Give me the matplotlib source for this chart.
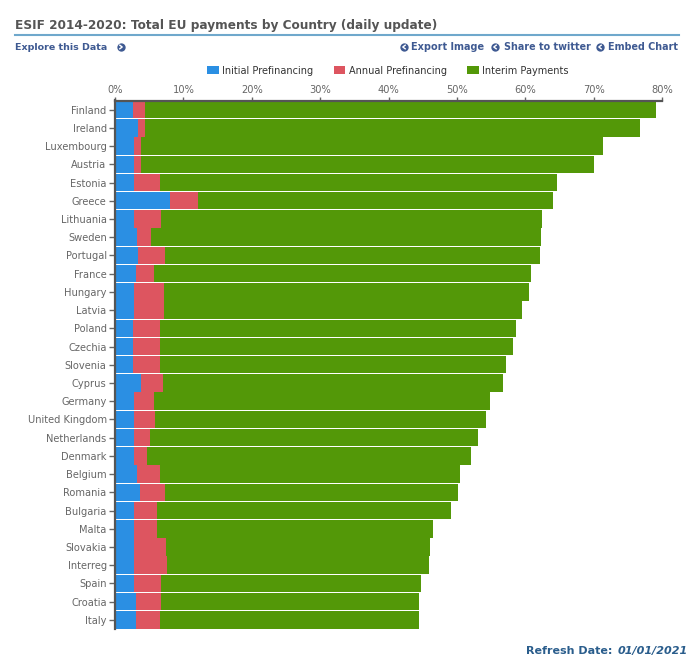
import matplotlib
matplotlib.use("Agg")
import matplotlib.pyplot as plt
from matplotlib.lines import Line2D
import numpy as np

countries = ["Finland", "Ireland", "Luxembourg", "Austria", "Estonia", "Greece", "Lithuania", "Sweden",
             "Portugal", "France", "Hungary", "Latvia", "Poland", "Czechia", "Slovenia", "Cyprus", "Germany",
             "United Kingdom", "Netherlands", "Denmark", "Belgium", "Romania", "Bulgaria", "Malta", "Slovakia",
             "Interreg", "Spain", "Croatia", "Italy"]
initial = [2.7, 3.35, 2.85, 2.85, 2.75, 8.1, 2.75, 3.2, 3.35, 3.05, 2.75, 2.85, 2.7, 2.7, 2.7, 3.85, 2.75,
           2.75, 2.75, 2.75, 3.15, 3.7, 2.85, 2.75, 2.75, 2.85, 2.85, 3.0, 3.1]
annual = [1.75, 1.1, 0.95, 0.95, 3.9, 4.0, 4.05, 2.05, 3.95, 2.6, 4.4, 4.25, 3.85, 3.9, 3.95, 3.1, 2.9,
          3.15, 2.3, 1.9, 3.5, 3.6, 3.3, 3.4, 4.7, 4.8, 3.95, 3.7, 3.5]
interim = [74.65, 72.4, 67.5, 66.2, 57.95, 51.9, 55.6, 57.05, 54.8, 55.25, 53.35, 52.4, 52.05, 51.6, 50.55,
           49.75, 49.15, 48.3, 48.05, 47.35, 43.75, 42.9, 42.95, 40.3, 38.65, 38.3, 38.0, 37.8, 37.9]
xticks = [0, 10, 20, 30, 40, 50, 60, 70, 80]

W, H = 694, 661
BLUE, RED, GREEN = "#2b8fe3", "#dd5560", "#539808"
LINK = "#3f5a92"
GREY = "#666666"


def fx(x):
    return x / W


def fy(y):
    return 1 - y / H


def link_icon(x, y, right=False):
    # little round arrow next to the header links
    fig.add_artist(Line2D([fx(x)], [fy(y)], marker="o", ms=6, color=LINK, mec="none"))
    d = 1.2 if right else -1.2
    fig.add_artist(Line2D([fx(x - d), fx(x + d), fx(x - d)], [fy(y - 1.8), fy(y), fy(y + 1.8)], color="white", lw=1))


plt.rcParams["font.family"] = ["DejaVu Sans"]
fig = plt.figure(figsize=(W / 100, H / 100), dpi=100)
ax = fig.add_axes([fx(115), fy(629), fx(662 - 115), (629 - 100.5) / H])

y = np.arange(len(countries))
initial_arr, annual_arr, interim_arr = np.array(initial), np.array(annual), np.array(interim)
b1 = ax.barh(y, initial_arr, height=0.96, color=BLUE, label="Initial Prefinancing")
b2 = ax.barh(y, annual_arr, left=initial_arr, height=0.96, color=RED, label="Annual Prefinancing")
b3 = ax.barh(y, interim_arr, left=initial_arr + annual_arr, height=0.96, color=GREEN, label="Interim Payments")

ax.set_xlim(0, 80)
ax.set_ylim(len(countries) - 0.5, -0.5)
ax.xaxis.tick_top()
ax.set_xticks(xticks)
ax.set_xticklabels([f"{t}%" for t in xticks])
ax.set_yticks(y)
ax.set_yticklabels(countries)
ax.tick_params(axis="x", length=3, width=1, color=GREY, labelcolor=GREY, labelsize=7.1, pad=1)
ax.tick_params(axis="y", length=4, width=1, color=GREY, labelcolor=GREY, labelsize=7.1, pad=2)
for side in ["right", "bottom"]:
    ax.spines[side].set_visible(False)
for side in ["top", "left"]:
    ax.spines[side].set_color("#555555")
    ax.spines[side].set_linewidth(1.6)

fig.legend(handles=[b1, b2, b3], loc="center", bbox_to_anchor=(fx(388), fy(70.5)), ncol=3, frameon=False,
           fontsize=7, handlelength=1.2, handleheight=0.9, handletextpad=0.35, columnspacing=2.1,
           labelcolor="#333333", borderpad=0)

fig.text(fx(15), fy(25), "ESIF 2014-2020: Total EU payments by Country (daily update)", fontsize=8.7,
         fontweight="bold", color="#555555", va="center")
fig.add_artist(Line2D([fx(15), fx(679)], [fy(35), fy(35)], color="#6fa8cc", lw=1.5))

fig.text(fx(15), fy(47), "Explore this Data", fontsize=6.8, fontweight="bold", color=LINK, va="center")
link_icon(121, 47, right=True)
link_icon(404, 47)
fig.text(fx(411), fy(47), "Export Image", fontsize=7, fontweight="bold", color=LINK, va="center")
link_icon(495, 47)
fig.text(fx(504), fy(47), "Share to twitter", fontsize=6.9, fontweight="bold", color=LINK, va="center")
link_icon(600, 47)
fig.text(fx(608), fy(47), "Embed Chart", fontsize=6.9, fontweight="bold", color=LINK, va="center")

fig.text(fx(526), fy(651), "Refresh Date: ", fontsize=8, fontweight="bold", color="#2a5d8c", va="center")
fig.text(fx(688), fy(651), "01/01/2021", fontsize=8, fontweight="bold", fontstyle="italic", color="#2a5d8c",
         va="center", ha="right")

fig.savefig("out.png", dpi=100)
